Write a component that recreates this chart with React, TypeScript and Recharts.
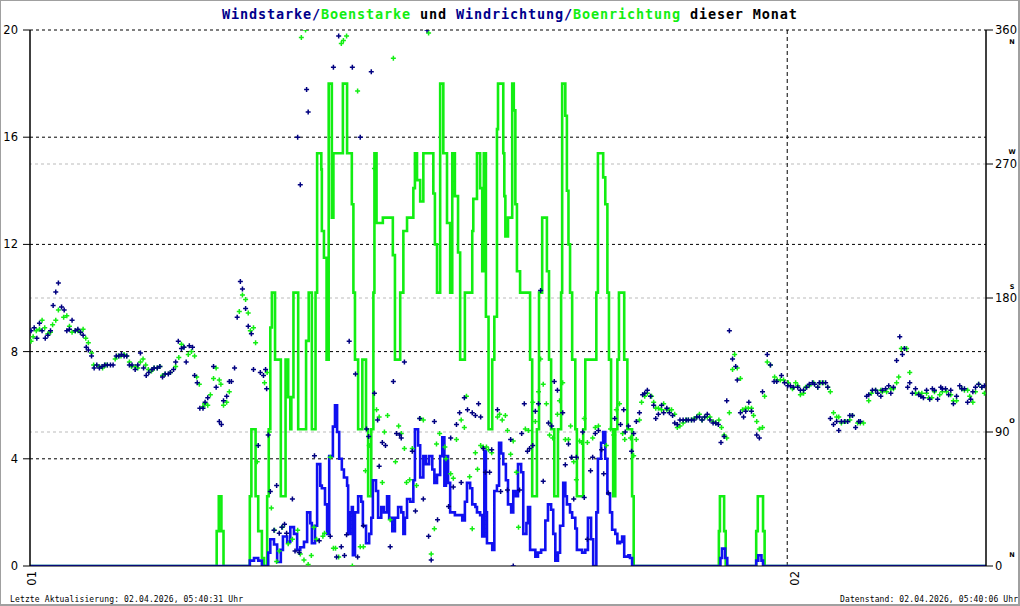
import React from 'react';
import { ComposedChart, Line, Scatter, XAxis, YAxis, ReferenceLine } from 'recharts';

// time axis: minutes since day 01 00:00
const dayTicks = [0, 1440];
const dayLabels = ['01', '02'];
const speedTicks = [0, 4, 8, 12, 16, 20];
const dirTicks = [0, 90, 180, 270, 360];
const dirLetters = ['N', 'O', 'S', 'W', 'N'];

// wind speed (blue line) [minute, value]
const windSpeed: [number, number][] = [
  [0,0],[415,0],[418,0.2],[426,0.3],[434,0.2],[441,0],[453,0.5],[457,1.0],[464,0.8],[470,0.15],[477,0.6],[481,1.1],[489,0.9],[495,1.45],[502,1.2],[508,0.6],[514,0.7],[521,0.9],[527,2.0],[533,1.6],[536,0.85],[542,1.5],[546,3.8],[552,3.0],[555,2.9],[561,2.3],[565,1.2],[569,4.1],[576,5.2],[580,6.0],[584,5.0],[588,4.0],[593,3.6],[597,3.3],[603,3.0],[605,1.2],[609,2.0],[612,2.2],[614,0.4],[618,2.0],[624,2.6],[630,2.4],[633,1.5],[639,0.85],[645,1.2],[649,1.8],[652,3.2],[658,2.8],[662,1.8],[668,2.2],[673,2.0],[679,2.6],[683,1.8],[689,1.3],[694,1.8],[700,2.2],[706,2.0],[710,1.2],[713,1.8],[717,2.5],[723,2.4],[729,3.2],[732,5.1],[738,4.5],[742,3.3],[748,4.1],[753,3.8],[759,4.1],[765,3.6],[769,3.1],[774,3.4],[780,4.1],[784,4.8],[788,3.0],[791,4.1],[795,3.1],[799,2.0],[808,1.9],[818,1.9],[822,1.7],[827,2.4],[831,3.1],[837,2.9],[841,2.3],[847,2.2],[850,2.0],[856,1.9],[860,1.1],[864,4.3],[867,2.0],[869,0.85],[879,0.6],[883,2.8],[888,3.0],[892,4.6],[896,4.2],[900,3.8],[905,3.2],[909,2.3],[915,2.0],[919,2.8],[924,2.6],[928,3.8],[934,3.5],[938,1.2],[944,1.6],[947,2.2],[951,0.6],[961,0.35],[966,0.5],[972,0.6],[980,1.7],[985,2.3],[991,2.1],[995,1.2],[999,0.2],[1004,0.5],[1008,1.5],[1014,3.1],[1018,2.6],[1021,2.3],[1027,2.0],[1031,1.8],[1037,1.4],[1040,0.6],[1050,0.5],[1056,0.6],[1061,1.8],[1067,1.0],[1071,0],[1077,2.0],[1080,4.0],[1086,4.6],[1090,5.0],[1094,4.0],[1098,2.7],[1103,2.0],[1107,1.35],[1113,1.2],[1117,0.85],[1122,0.9],[1126,1.1],[1130,0.35],[1138,0.4],[1141,0.3],[1145,0],[1313,0.3],[1316,0.65],[1322,0.3],[1326,0],[1381,0.2],[1385,0.4],[1391,0.2],[1394,0],[1818,0]
];

// gust speed (green line) [minute, value]
const gustSpeed: [number, number][] = [
  [0,0],[355,1.3],[359,2.6],[364,1.3],[368,0],[418,2.6],[421,5.1],[429,2.6],[434,1.3],[441,0.3],[445,0],[451,2.6],[454,5.1],[457,8.9],[460,10.2],[466,7.7],[477,2.6],[486,7.7],[491,6.3],[495,5.1],[497,6.3],[501,10.2],[510,5.1],[525,8.4],[530,10.2],[536,5.1],[543,10.2],[546,15.4],[554,14.8],[555,12.5],[559,11.5],[564,7.7],[568,18.0],[574,13.0],[577,15.4],[595,18.0],[603,15.4],[612,13.5],[615,10.2],[618,7.7],[624,5.1],[632,7.7],[639,5.1],[643,2.6],[649,5.1],[653,10.2],[655,15.4],[659,12.8],[671,13.0],[690,11.6],[694,7.7],[704,10.2],[710,12.5],[717,13.0],[729,14.1],[732,15.4],[736,14.4],[742,13.6],[748,15.4],[767,13.9],[770,12.0],[774,10.2],[780,18.0],[786,15.4],[793,12.8],[799,10.2],[803,15.4],[808,13.8],[814,11.7],[818,7.7],[827,10.2],[841,12.5],[843,13.7],[850,15.4],[856,14.1],[860,11.0],[863,15.4],[867,9.3],[872,5.1],[879,7.7],[883,9.3],[888,16.3],[890,18.0],[900,15.4],[902,13.8],[904,12.3],[909,13.0],[917,18.0],[920,17.0],[923,13.5],[926,11.0],[932,10.2],[951,7.7],[955,2.6],[964,5.1],[968,10.2],[974,13.0],[983,11.0],[987,7.7],[991,5.1],[997,2.6],[1004,5.1],[1010,10.2],[1012,18.0],[1018,16.8],[1021,14.0],[1024,12.0],[1027,10.2],[1031,7.7],[1037,5.1],[1040,2.6],[1052,5.1],[1056,7.7],[1077,10.2],[1080,15.4],[1090,14.5],[1094,13.5],[1098,10.2],[1101,7.7],[1105,5.1],[1109,2.6],[1113,5.1],[1117,7.7],[1120,10.2],[1130,7.7],[1136,5.1],[1145,2.6],[1148,0],[1310,1.3],[1312,2.6],[1320,1.3],[1323,0],[1381,1.3],[1384,2.6],[1394,1.3],[1397,0],[1818,0]
];

// wind direction (navy crosses) [minute, degrees]
const windDir: [number, number][] = [
  [2,158],[8,160],[13,153],[18,163],[23,158],[29,153],[34,155],[39,158],[44,175],[49,184],[54,190],[60,174],[65,172],[70,158],[75,159],[80,165],[86,158],[91,159],[96,157],[101,155],[107,147],[111,145],[117,141],[122,133],[127,135],[132,133],[137,134],[142,135],[147,135],[153,135],[158,135],[164,141],[169,141],[174,142],[179,141],[184,141],[189,135],[194,135],[200,132],[205,135],[210,143],[216,133],[221,128],[226,130],[232,132],[236,133],[242,133],[247,134],[252,127],[257,129],[263,129],[267,130],[273,132],[277,137],[282,151],[288,146],[293,147],[297,137],[303,148],[309,147],[313,128],[318,123],[323,106],[329,106],[333,110],[338,113],[349,134],[354,120],[360,97],[364,95],[368,111],[374,114],[379,124],
  [383,124],[389,133],[394,167],[400,191],[404,186],[410,173],[415,161],[421,156],[425,132],[434,81],[438,130],[444,128],[448,132],[450,119],[453,88],[457,50],[464,24],[469,54],[474,22],[479,26],[484,28],[488,22],[499,45],[504,10],[509,288],[512,9],[514,256],[526,320],[529,305],[541,74],[550,17],[571,20],[577,335],[583,6],[587,356],[592,13],[598,7],[602,21],[607,151],[613,335],[619,129],[623,6],[628,288],[634,27],[640,92],[644,87],[649,332],[655,116],[661,98],[664,67],[670,83],[676,81],[685,13],[691,124],[697,89],[703,88],[706,86],[712,137],[727,77],[733,37],[741,99],[748,45],[755,360],[758,20],[763,4],[769,97],[775,31],[796,40],[800,86],[805,53],[811,95],[817,103],[820,56],[826,113],[832,105],[841,103],[847,101],[853,109],[857,100],[862,79],[866,63],[874,63],[878,78],[889,105],[895,50],[908,51],[914,85],[919,0],[931,51],[935,89],[940,109],[946,77],[950,79],[956,81],[961,104],[967,109],[971,185],[976,57],[986,96],[992,94],[997,124],[1003,118],[1013,103],[1018,68],[1024,82],[1030,73],[1034,45],[1039,73],[1051,90],[1054,46],[1060,18],[1066,64],[1070,73],[1075,89],[1081,91],[1087,78],[1091,62],[1100,49],[1112,99],[1123,95],[1129,105],[1132,90],[1138,94],[1144,77],[1148,89],[1153,97],[1159,103],[1165,115],[1169,116],[1174,118],[1180,114],[1186,108],[1190,99],[1195,102],[1201,108],[1205,103],[1211,106],[1216,103],[1222,101],[1226,96],[1231,95],[1236,98],[1242,98],[1248,98],[1252,98],[1258,98],[1263,98],[1268,100],[1273,100],[1278,98],[1283,100],[1288,102],[1293,98],[1299,96],[1304,96],[1309,95],[1314,83],[1320,87],[1325,111],[1330,158],[1336,139],[1342,134],[1345,125],[1351,103],[1357,100],[1361,104],[1367,110],[1372,104],[1382,88],[1387,86],[1393,117],[1402,142],[1408,135],[1415,124],[1420,124],[1429,128],[1435,123],[1441,121],[1446,121],[1452,120],[1460,120],[1465,118],[1471,118],[1477,120],[1482,122],[1488,123],[1492,122],[1498,120],[1501,123],[1507,123],[1513,123],[1517,120],[1522,99],[1528,95],[1534,97],[1538,91],[1543,97],[1549,97],[1555,97],[1559,101],[1564,101],[1570,93],[1576,97],[1579,97],[1591,114],[1595,115],[1602,118],[1608,118],[1612,116],[1618,114],[1621,118],[1627,119],[1633,121],[1637,116],[1642,120],[1648,138],[1654,154],[1659,142],[1663,146],[1669,120],[1673,123],[1678,116],[1684,119],[1690,115],[1694,114],[1699,113],[1705,118],[1711,112],[1716,119],[1720,118],[1726,112],[1732,120],[1735,119],[1741,119],[1747,115],[1751,118],[1756,109],[1762,114],[1768,121],[1772,119],[1777,119],[1783,110],[1789,112],[1793,117],[1798,120],[1804,122],[1810,120],[1815,121]
];

// gust direction (green crosses) [minute, degrees]
const gustDir: [number, number][] = [
  [2,151],[6,154],[12,158],[18,159],[23,165],[28,160],[34,156],[39,157],[43,162],[49,165],[54,172],[64,167],[70,168],[75,161],[80,157],[86,158],[91,158],[96,157],[101,159],[106,153],[111,150],[117,143],[121,135],[132,134],[138,133],[143,135],[147,135],[162,139],[168,141],[173,141],[179,142],[184,141],[189,137],[193,134],[200,134],[205,133],[210,137],[215,139],[220,135],[225,132],[231,131],[236,133],[242,133],[247,134],[252,128],[257,129],[267,130],[277,134],[283,140],[288,149],[292,147],[301,142],[307,144],[313,141],[317,127],[322,122],[329,107],[332,109],[338,108],[343,115],[349,126],[354,133],[360,125],[363,122],[368,108],[374,110],[379,117],
  [398,171],[404,182],[410,179],[415,170],[419,158],[425,160],[429,150],[432,70],[446,123],[451,130],[455,90],[459,39],[465,24],[469,3],[474,10],[480,26],[491,15],[499,18],[509,24],[514,8],[516,355],[521,4],[524,360],[529,1],[535,7],[540,26],[545,18],[557,20],[560,22],[571,73],[577,12],[581,12],[587,6],[592,351],[596,353],[602,356],[613,0],[623,319],[628,13],[634,13],[638,64],[645,81],[655,267],[659,105],[664,100],[670,56],[674,90],[680,101],[685,31],[691,341],[695,70],[701,94],[706,89],[712,79],[716,56],[722,58],[727,79],[735,54],[742,99],[748,98],[758,358],[763,8],[769,25],[773,82],[779,89],[789,80],[791,72],[800,62],[805,59],[811,85],[820,98],[826,93],[830,114],[836,60],[841,25],[847,76],[851,65],[857,81],[862,80],[868,80],[872,78],[878,76],[889,100],[893,102],[898,98],[904,101],[908,91],[914,75],[919,84],[925,63],[929,26],[942,92],[948,91],[956,110],[961,97],[967,117],[971,139],[976,122],[982,109],[988,88],[994,86],[1003,102],[1007,111],[1013,123],[1018,85],[1024,85],[1028,94],[1034,70],[1039,58],[1045,84],[1049,83],[1054,99],[1060,83],[1070,86],[1075,93],[1081,94],[1096,81],[1104,92],[1110,88],[1115,105],[1121,109],[1127,89],[1131,85],[1142,86],[1148,74],[1153,85],[1159,98],[1163,110],[1169,114],[1174,116],[1182,114],[1186,110],[1190,106],[1195,106],[1201,105],[1205,109],[1211,105],[1216,105],[1220,105],[1226,102],[1231,93],[1236,94],[1242,96],[1247,98],[1252,98],[1258,98],[1263,99],[1268,100],[1273,102],[1278,98],[1283,100],[1288,100],[1293,100],[1299,97],[1304,96],[1310,98],[1315,93],[1320,88],[1325,86],[1330,103],[1336,132],[1340,142],[1345,133],[1351,126],[1355,105],[1361,106],[1366,106],[1372,106],[1376,101],[1382,97],[1387,92],[1393,93],[1397,114],[1402,137],[1408,135],[1416,127],[1421,125],[1427,125],[1433,125],[1442,123],[1450,119],[1456,123],[1460,121],[1465,115],[1471,116],[1475,120],[1482,121],[1490,123],[1498,120],[1503,123],[1509,123],[1517,120],[1522,117],[1528,103],[1534,100],[1538,100],[1543,96],[1551,97],[1559,98],[1564,101],[1574,96],[1579,96],[1585,96],[1595,111],[1600,116],[1608,118],[1618,118],[1621,117],[1629,117],[1637,119],[1642,119],[1648,123],[1652,127],[1657,146],[1663,146],[1667,146],[1673,130],[1684,116],[1690,116],[1696,116],[1705,116],[1709,113],[1715,113],[1720,117],[1730,115],[1735,117],[1743,117],[1751,115],[1756,111],[1762,111],[1772,119],[1777,118],[1783,118],[1787,114],[1793,110],[1798,117],[1804,122],[1810,120],[1815,116]
];

const NAVY = '#000080';
const BLUE = '#1010f0';
const GREEN = '#12ee12';

const toLine = (a: [number, number][]) => a.map(([t, v]) => ({ t, v }));
const toDir = (a: [number, number][]) => a.map(([t, d]) => ({ t, d }));

const windLine = toLine(windSpeed);
const gustLine = toLine(gustSpeed);
const windPts = toDir(windDir);
const gustPts = toDir(gustDir);

const makeCross = (color: string) => (p: any) => {
  const { cx, cy } = p;
  if (cx == null || cy == null || isNaN(cx) || isNaN(cy)) return <g />;
  return (
    <path
      d={`M${cx - 2.5},${cy}H${cx + 2.5}M${cx},${cy - 2.5}V${cy + 2.5}`}
      stroke={color}
      strokeWidth={1.5}
      fill="none"
    />
  );
};
const navyCross = makeCross(NAVY);
const greenCross = makeCross(GREEN);

const DayTick = (p: any) => {
  const { x, payload } = p;
  const i = dayTicks.indexOf(payload.value);
  const off = i === 0 ? 6 : 12;
  return (
    <text
      transform={`translate(${x + off},571) rotate(-90)`}
      textAnchor="end"
      fontFamily="DejaVu Sans"
      fontSize={11.5}
      fill="#000"
    >
      {dayLabels[i]}
    </text>
  );
};

const DirTick = (p: any) => {
  const { x, y, payload } = p;
  const i = dirTicks.indexOf(payload.value);
  const letterDy = [-11, -11.5, -11, -12, 12][i];
  return (
    <g>
      <text x={x} y={y} dy="0.36em" textAnchor="start" fontFamily="DejaVu Sans" fontSize={11.5} fill="#000">
        {payload.value}
      </text>
      <text x={1012} y={y + letterDy} dy="0.36em" textAnchor="middle" fontFamily="DejaVu Sans" fontWeight="bold" fontSize={6.5} fill="#000">
        {dirLetters[i]}
      </text>
    </g>
  );
};

export default function App() {
  return (
    <div style={{ position: 'absolute', left: 0, top: 0, width: 1020, height: 606, background: '#fff', overflow: 'hidden' }}>
      <ComposedChart width={1020} height={606} margin={{ top: 30, right: 0, bottom: 0, left: 0 }}>
        <XAxis
          type="number"
          dataKey="t"
          domain={[0, 1818]}
          allowDataOverflow
          ticks={dayTicks}
          interval={0}
          height={40}
          tickLine={false}
          axisLine={{ stroke: '#000', strokeWidth: 1 }}
          tick={(p: any) => <DayTick {...p} />}
        />
        <YAxis
          yAxisId="v"
          domain={[0, 20]}
          ticks={speedTicks}
          interval={0}
          allowDataOverflow
          width={30}
          tickSize={7}
          tickMargin={5}
          axisLine={{ stroke: '#000', strokeWidth: 1.5 }}
          tickLine={{ stroke: '#000' }}
          tick={{ fill: '#000', fontSize: 11.5, fontFamily: 'DejaVu Sans' }}
        />
        <YAxis
          yAxisId="d"
          orientation="right"
          domain={[0, 360]}
          ticks={dirTicks}
          interval={0}
          allowDataOverflow
          width={34}
          tickSize={7}
          tickMargin={2}
          axisLine={{ stroke: '#000', strokeWidth: 1.5 }}
          tickLine={{ stroke: '#000' }}
          tick={(p: any) => <DirTick {...p} />}
        />
        {[90, 180, 270].map((d) => (
          <ReferenceLine key={'g' + d} yAxisId="d" y={d} stroke="#bbbbbb" strokeDasharray="3 3" />
        ))}
        {[4, 8, 12, 16, 20].map((v) => (
          <ReferenceLine key={'b' + v} yAxisId="v" y={v} stroke="#000" strokeDasharray="3 3" />
        ))}
        <ReferenceLine yAxisId="v" x={1440} stroke="#000" strokeDasharray="4 3" />
        <Line
          yAxisId="v"
          data={gustLine}
          dataKey="v"
          type="stepAfter"
          stroke={GREEN}
          strokeWidth={2.6}
          dot={false}
          activeDot={false}
          isAnimationActive={false}
        />
        <Line
          yAxisId="v"
          data={windLine}
          dataKey="v"
          type="stepAfter"
          stroke={BLUE}
          strokeWidth={2.6}
          dot={false}
          activeDot={false}
          isAnimationActive={false}
        />
        <Scatter yAxisId="d" data={gustPts} dataKey="d" shape={greenCross} isAnimationActive={false} />
        <Scatter yAxisId="d" data={windPts} dataKey="d" shape={navyCross} isAnimationActive={false} />
      </ComposedChart>
      <svg width={1020} height={606} style={{ position: 'absolute', left: 0, top: 0, pointerEvents: 'none' }}>
        <text x={509.5} y={18.5} textAnchor="middle" fontFamily="DejaVu Sans Mono" fontWeight="bold" fontSize={13.5} textLength={575} lengthAdjust="spacing">
          <tspan fill="#00008b">Windstarke/</tspan>
          <tspan fill={GREEN}>Boenstarke</tspan>
          <tspan fill="#000"> und </tspan>
          <tspan fill="#00008b">Windrichtung/</tspan>
          <tspan fill={GREEN}>Boenrichtung</tspan>
          <tspan fill="#000"> dieser Monat</tspan>
        </text>
        <text x={10} y={602} fontFamily="DejaVu Sans Mono" fontSize={8} fill="#000" textLength={233} lengthAdjust="spacing">
          Letzte Aktualisierung: 02.04.2026, 05:40:31 Uhr
        </text>
        <text x={1018} y={602} textAnchor="end" fontFamily="DejaVu Sans Mono" fontSize={8} fill="#000" textLength={178} lengthAdjust="spacing">
          Datenstand: 02.04.2026, 05:40:06 Uhr
        </text>
      </svg>
      <div
        style={{
          position: 'absolute',
          left: 0,
          top: 0,
          width: 1020,
          height: 606,
          boxSizing: 'border-box',
          borderTop: '1px solid #a0a0a0',
          borderLeft: '1px solid #a0a0a0',
          borderRight: '2px solid #a0a0a0',
          borderBottom: '2px solid #a0a0a0',
          pointerEvents: 'none',
        }}
      />
    </div>
  );
}
